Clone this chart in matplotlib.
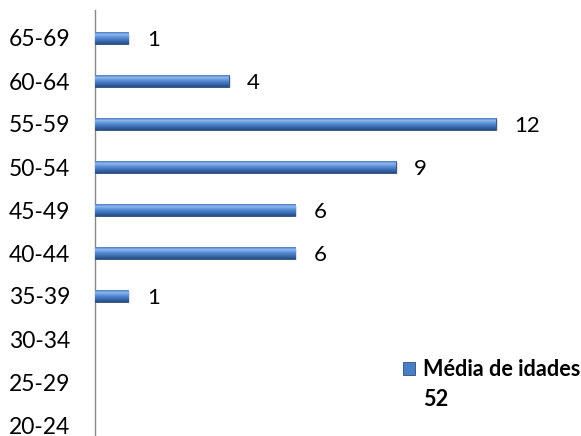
import matplotlib
matplotlib.use("Agg")
import matplotlib.pyplot as plt
import numpy as np
from matplotlib.patches import Rectangle
from matplotlib.colors import LinearSegmentedColormap

categories = ["20-24", "25-29", "30-34", "35-39", "40-44", "45-49", "50-54", "55-59", "60-64", "65-69"]
values = [0, 0, 0, 1, 6, 6, 9, 12, 4, 1]
legend_line1 = "Média de idades"
legend_line2 = "52"

plt.rcParams['font.family'] = ['Lato', 'DejaVu Sans']

W, H = 581, 436
fig = plt.figure(figsize=(W / 100, H / 100), dpi=100)
ax = fig.add_axes([95 / W, 0, 1 - 95 / W, 1 - 10 / H])

y = np.arange(len(categories))
bar_h = 0.26
base = "#4A7FC8"
shown = [v if v > 0 else np.nan for v in values]
bars = ax.barh(y, values, height=bar_h, color=base, edgecolor="#2C4D75", linewidth=0.6, zorder=3)

grad = np.linspace(0, 1, 60).reshape(-1, 1)
cmap = LinearSegmentedColormap.from_list("g", [(0, "#4A7DC0"), (0.2, "#8FB8EE"), (0.45, "#5B8FD6"),
                                               (0.75, "#3A6BB0"), (1, "#264C85")])
for b, v, yy in zip(bars, values, y):
    if v <= 0:
        b.set_visible(False)
        continue
    ax.add_patch(Rectangle((0.06, yy - bar_h / 2 - 0.04), v, bar_h, color="#C8C8C8", alpha=0.6, zorder=2, lw=0))
    im = ax.imshow(grad, cmap=cmap, extent=(0, v, yy - bar_h / 2, yy + bar_h / 2), aspect="auto", zorder=4)
    im.set_clip_path(b)
    ax.text(v + 0.55, yy - 0.04, str(v), va="center", ha="left", fontsize=16, color="black", zorder=5)

ax.set_xlim(0, (W - 95) / 33.4)
ax.set_ylim(-(436 - 425) / 43, 9 + (38 - 10) / 43)
ax.set_yticks(y)
ax.set_yticklabels(categories, fontsize=16.5)
ax.tick_params(axis="y", length=0, pad=18)
ax.set_xticks([])
for s in ["top", "right", "bottom"]:
    ax.spines[s].set_visible(False)
ax.spines["left"].set_color("#888888")
ax.spines["left"].set_linewidth(1.0)

# legend
fig.patches.append(Rectangle((403 / W, 1 - 375 / H), 12 / W, 13 / H, transform=fig.transFigure,
                             facecolor="#4A7FC8", edgecolor="#2C4D75", lw=0.6))
fig.text(423 / W, 1 - 369 / H, legend_line1, fontsize=15.6, fontweight="bold", va="center", ha="left")
fig.text(423 / W, 1 - 399 / H, legend_line2, fontsize=15.6, fontweight="bold", va="center", ha="left")

fig.savefig("out.png", dpi=100)
